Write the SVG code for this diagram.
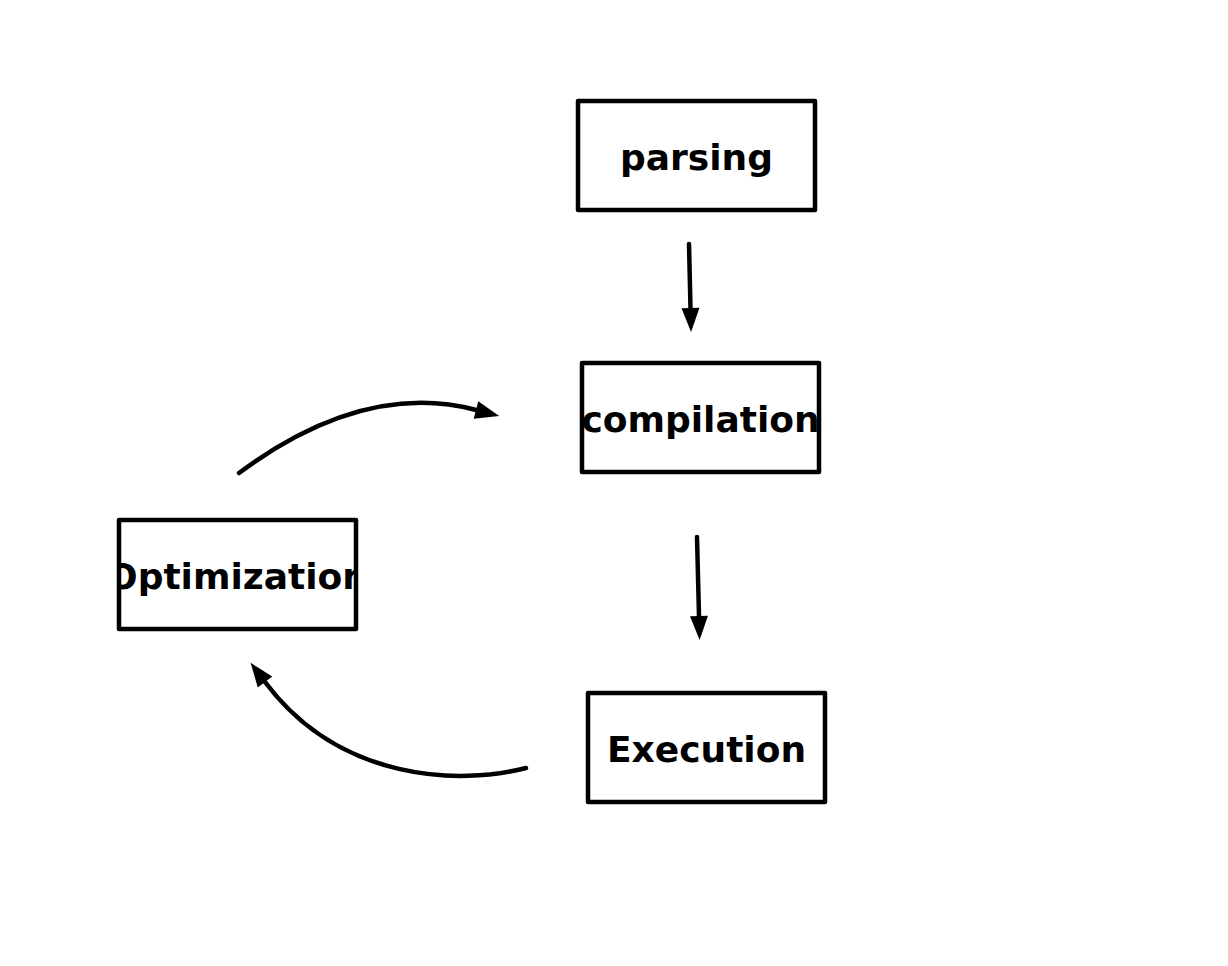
<svg xmlns="http://www.w3.org/2000/svg" width="1228" height="966" viewBox="0 0 1228 966">
<style>
.box{fill:#fff;stroke:#000;stroke-width:4.5;stroke-linejoin:round}
.lbl{font-family:"DejaVu Sans","Liberation Sans",sans-serif;font-weight:bold;font-size:36px;fill:#000;text-anchor:middle}
.edge{fill:none;stroke:#000;stroke-width:4.5;stroke-linecap:round;marker-end:url(#ah)}
</style>
<defs>
<marker id="ah" markerUnits="userSpaceOnUse" viewBox="0 0 24 18" refX="0" refY="9" markerWidth="24" markerHeight="18" orient="auto" overflow="visible">
<path d="M0,0 L24,9 L0,18 z" fill="#000"/>
</marker>
<clipPath id="c1"><rect x="578" y="101" width="237" height="109"/></clipPath>
<clipPath id="c2"><rect x="582" y="363" width="237" height="109"/></clipPath>
<clipPath id="c3"><rect x="119" y="520" width="237" height="109"/></clipPath>
<clipPath id="c4"><rect x="588" y="693" width="237" height="109"/></clipPath>
</defs>
<rect width="1228" height="966" fill="#fff"/>
<g id="parsing">
<rect class="box" x="578" y="101" width="237" height="109"/>
<text class="lbl" x="696.5" y="170" clip-path="url(#c1)">parsing</text>
</g>
<g id="compilation">
<rect class="box" x="582" y="363" width="237" height="109"/>
<text class="lbl" x="700.5" y="432" clip-path="url(#c2)">compilation</text>
</g>
<g id="optimization">
<rect class="box" x="119" y="520" width="237" height="109"/>
<text class="lbl" x="237.5" y="589" clip-path="url(#c3)">Optimization</text>
</g>
<g id="execution">
<rect class="box" x="588" y="693" width="237" height="109"/>
<text class="lbl" x="706.5" y="762" clip-path="url(#c4)">Execution</text>
</g>
<g id="connectors">
<path class="edge" d="M689,244 L690.5,308"/>
<path class="edge" d="M697,537 L699,616"/>
<path class="edge" d="M239,473 C320,413 400,390 476,410"/>
<path class="edge" d="M526,768 C460,785 340,782 265,682"/>
</g>
</svg>
